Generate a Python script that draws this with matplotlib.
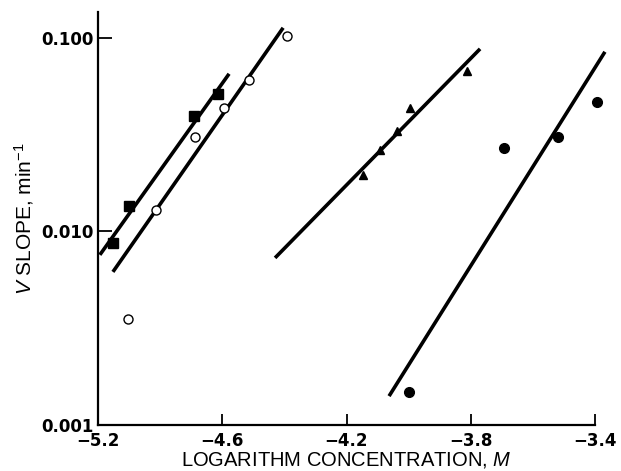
import numpy as np
import matplotlib
matplotlib.use("Agg")
import matplotlib.pyplot as plt

# Data (x on the drawn, evenly spaced scale)
square_x = [-4.952, -4.900, -4.691, -4.614]
square_y = [0.00873, 0.01355, 0.0395, 0.0514]

open_x = [-4.903, -4.813, -4.688, -4.594, -4.514, -4.392]
open_y = [0.00353, 0.0129, 0.0308, 0.0435, 0.0607, 0.102]

tri_x = [-4.147, -4.092, -4.038, -3.996, -3.812]
tri_y = [0.0196, 0.0264, 0.0330, 0.0435, 0.0675]

dot_x = [-3.999, -3.693, -3.519, -3.394]
dot_y = [0.00148, 0.0270, 0.0308, 0.0467]

# fitted lines, end points
fit_x = [(-4.994, -4.578), (-4.952, -4.404), (-4.430, -3.770), (-4.063, -3.368)]
fit_y = [(0.00757, 0.0652), (0.00618, 0.1127), (0.00730, 0.0877), (0.00141, 0.0847)]

xticks = [-5.0, -4.6, -4.2, -3.8, -3.4]
xtick_labels = ["\u22125.2", "\u22124.6", "\u22124.2", "\u22123.8", "\u22123.4"]
yticks = [0.001, 0.01, 0.1]
ytick_labels = ["0.001", "0.010", "0.100"]

plt.rcParams["font.family"] = ["Liberation Sans", "DejaVu Sans"]
plt.rcParams["mathtext.fontset"] = "custom"
plt.rcParams["mathtext.rm"] = "Liberation Sans"
plt.rcParams["mathtext.it"] = "Liberation Sans:italic"

fig = plt.figure(figsize=(6.21, 4.71), dpi=100)
ax = fig.add_axes([98 / 621, 46 / 471, 497 / 621, 413 / 471])

for xs, ys in zip(fit_x, fit_y):
    ax.plot(xs, ys, color="black", linewidth=2.6, solid_capstyle="butt", clip_on=False)

ax.plot(square_x, square_y, "s", color="black", markersize=7.5, zorder=3, clip_on=False)
ax.plot(open_x, open_y, "o", markerfacecolor="white", markeredgecolor="black",
        markeredgewidth=1.0, markersize=6.5, zorder=3, clip_on=False)
ax.plot(tri_x, tri_y, "^", color="black", markersize=6, zorder=3, clip_on=False)
ax.plot(dot_x, dot_y, "o", color="black", markersize=7, zorder=3, clip_on=False)

ax.set_yscale("log")
ax.set_xlim(-5.0, -3.4)
ax.set_ylim(0.001, 0.136)

tick_font = {"family": "DejaVu Sans", "weight": "bold", "size": 12}
ax.set_xticks(xticks)
ax.set_xticklabels(xtick_labels, fontdict=tick_font)
ax.set_yticks(yticks)
ax.set_yticklabels(ytick_labels, fontdict=tick_font)
ax.yaxis.set_minor_locator(matplotlib.ticker.NullLocator())
ax.tick_params(axis="x", direction="in", length=8, width=1.3, pad=5)
ax.tick_params(axis="y", direction="in", length=10, width=1.3, pad=3)

for side in ["top", "right"]:
    ax.spines[side].set_visible(False)
for side in ["left", "bottom"]:
    ax.spines[side].set_linewidth(1.6)

ax.set_xlabel("LOGARITHM CONCENTRATION, $\\mathit{M}$", fontsize=14.5, labelpad=0)
ax.set_ylabel("$\\mathit{V}$ SLOPE, min$^{-1}$", fontsize=15, labelpad=4)

fig.savefig("out.png", dpi=100)
